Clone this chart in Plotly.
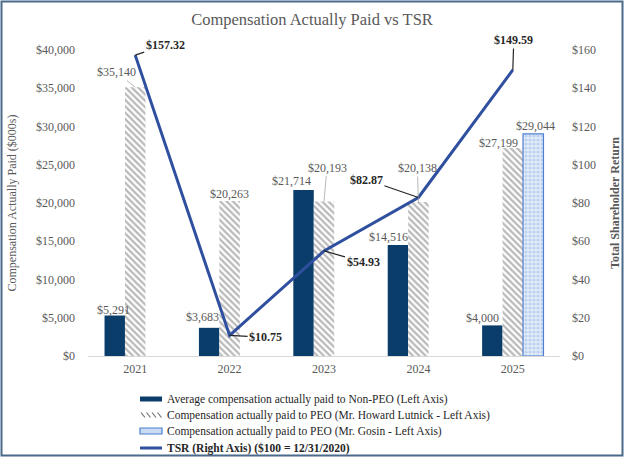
import plotly.graph_objects as go

# chart data
years = ["2021", "2022", "2023", "2024", "2025"]
non_peo = [5291, 3683, 21714, 14516, 4000]
lutnick = [35140, 20263, 20193, 20138, 27199]
gosin = [None, None, None, None, 29044]
tsr = [157.32, 10.75, 54.93, 82.87, 149.59]

legend_names = [
    "Average compensation actually paid to Non-PEO (Left Axis)",
    "Compensation actually paid to PEO (Mr. Howard Lutnick - Left Axis)",
    "Compensation actually paid to PEO (Mr. Gosin - Left Axis)",
    "<b>TSR (Right Axis) ($100 = 12/31/2020)</b>",
]

FONT = "Liberation Serif, Times New Roman, serif"
GREY = "#595959"
NAVY = "#0b3d6b"
LINE_BLUE = "#2f4f9f"
HATCH = "#727272"
DOT_EDGE = "#4f7fd0"

W, H = 624, 457
L, R, T, B = 88, 64, 50, 101
PW, PH = W - L - R, H - T - B
BAR_W = 20.5  # px per bar, used to shift labels over each bar


def px(x):
    """pixel x -> paper x"""
    return (x - L) / PW


def py(y):
    """pixel y (from top) -> paper y"""
    return (T + PH - y) / PH


fig = go.Figure()

fig.add_trace(go.Bar(
    x=years, y=non_peo, name=legend_names[0],
    marker=dict(color=NAVY, line=dict(width=0)),
))
fig.add_trace(go.Bar(
    x=years, y=lutnick, name=legend_names[1],
    marker=dict(
        color="white",
        line=dict(width=0),
        pattern=dict(shape="\\", fgcolor=HATCH, bgcolor="white", size=4.5, solidity=0.5),
    ),
))
fig.add_trace(go.Bar(
    x=years, y=gosin, name=legend_names[2],
    marker=dict(
        color="#dbe7f5",
        line=dict(width=1.2, color=DOT_EDGE),
        pattern=dict(shape=".", fgcolor="#93b6e6", bgcolor="#e3edf8", size=4, solidity=0.5),
    ),
))
fig.add_trace(go.Scatter(
    x=years, y=tsr, yaxis="y2", name=legend_names[3],
    mode="lines",
    line=dict(color=LINE_BLUE, width=3),
))

annotations = []

# bar value labels: series, bar slot, per point (dx, dy, leader line)
# without leader: text sits on the bar top, shifted dx / dy px
# with leader: text centre at (dx, dy) px from the bar top
bar_labels = [
    (non_peo, -1, [(-1, -3, False), (-7, 2, False), (-12, 0, False), (-9, -1, False), (-10, -2, False)]),
    (lutnick, 0, [(-19, -15, True), (0, -2, False), (3, -34, True), (-1, -34, True), (-14, -4, False)]),
    (gosin, 1, [None, None, None, None, (2, -1, False)]),
]
for vals, slot, opts in bar_labels:
    for i, v in enumerate(vals):
        if v is None:
            continue
        dx, dy, leader = opts[i]
        a = dict(
            x=i, y=v, xref="x", yref="y",
            text=f"${v:,.0f}",
            font=dict(family=FONT, size=12, color=GREY),
            xshift=slot * BAR_W,
        )
        if leader:
            a.update(showarrow=True, arrowhead=0, arrowwidth=0.8, arrowcolor="#a6a6a6",
                     ax=dx, ay=dy, xanchor="center", yanchor="middle", standoff=0)
        else:
            a.update(showarrow=False, yanchor="bottom", yshift=dy)
            a["xshift"] += dx
        annotations.append(a)

# TSR value labels with leader lines (label centre offset from the point)
tsr_offsets = [(30, -10), (36, 2), (39, 11), (-52, -18), (1, -30)]
for i, v in enumerate(tsr):
    dx, dy = tsr_offsets[i]
    annotations.append(dict(
        x=i, y=v, xref="x", yref="y2",
        text=f"<b>${v:,.2f}</b>",
        font=dict(family=FONT, size=12, color="#262626"),
        showarrow=True, arrowhead=0, arrowwidth=1.2, arrowcolor="#262626",
        ax=dx, ay=dy, xanchor="center", yanchor="middle", standoff=0,
    ))

# legend drawn by hand so the rows sit as tight as in the original
legend_rows = [399, 415, 431, 448]
sym_x0, sym_x1, text_x = 140, 162, 165
for name, ry in zip(legend_names, legend_rows):
    annotations.append(dict(
        x=px(text_x), y=py(ry), xref="paper", yref="paper",
        xanchor="left", yanchor="middle", showarrow=False,
        text=name, font=dict(family=FONT, size=11.5, color="#262626"),
    ))

shapes = []
# non-PEO swatch
shapes.append(dict(type="rect", xref="paper", yref="paper",
                   x0=px(sym_x0), x1=px(sym_x1), y0=py(legend_rows[0] + 2.5), y1=py(legend_rows[0] - 2.5),
                   fillcolor=NAVY, line=dict(width=0)))
# hatch swatch
for hx in [141, 146.5, 152, 157.5]:
    shapes.append(dict(type="line", xref="paper", yref="paper",
                       x0=px(hx), x1=px(hx + 4), y0=py(legend_rows[1] - 2.5), y1=py(legend_rows[1] + 2.5),
                       line=dict(color=HATCH, width=1.2)))
# Gosin swatch
shapes.append(dict(type="rect", xref="paper", yref="paper",
                   x0=px(sym_x0), x1=px(sym_x1), y0=py(legend_rows[2] + 3), y1=py(legend_rows[2] - 3),
                   fillcolor="#c9dcf3", line=dict(width=1.2, color=DOT_EDGE)))
# TSR swatch
shapes.append(dict(type="line", xref="paper", yref="paper",
                   x0=px(sym_x0), x1=px(sym_x1), y0=py(legend_rows[3]), y1=py(legend_rows[3]),
                   line=dict(color=LINE_BLUE, width=3)))
# outer frame around the whole chart
shapes.append(dict(type="rect", xref="paper", yref="paper",
                   x0=px(1.5), x1=px(W - 1.5), y0=py(H - 1.5), y1=py(1.5),
                   line=dict(color="#4a6b8c", width=2), fillcolor="rgba(0,0,0,0)", layer="above"))

fig.update_layout(
    width=W, height=H,
    margin=dict(l=L, r=R, t=T, b=B, autoexpand=False),
    paper_bgcolor="white", plot_bgcolor="white",
    font=dict(family=FONT, size=12, color=GREY),
    title=dict(
        text="Compensation Actually Paid vs TSR",
        x=0.5, xanchor="center", y=0.958, yanchor="middle",
        font=dict(family=FONT, size=16.5, color=GREY),
    ),
    barmode="group", bargap=0.35, bargroupgap=0.0,
    showlegend=False,
    xaxis=dict(
        showgrid=False, showline=True, linecolor="#d9d9d9", linewidth=1,
        ticks="", ticklabelstandoff=2, automargin=False,
        tickfont=dict(family=FONT, size=12, color=GREY),
    ),
    yaxis=dict(
        range=[0, 40000], dtick=5000, tickprefix="$", tickformat=",d",
        showgrid=False, zeroline=False, showline=False,
        ticklabelstandoff=12, automargin=False,
        tickfont=dict(family=FONT, size=12, color=GREY),
        title=dict(text="Compensation Actually Paid ($000s)",
                   font=dict(family=FONT, size=12, color=GREY), standoff=16),
    ),
    yaxis2=dict(
        range=[0, 160], dtick=20, tickprefix="$",
        overlaying="y", side="right",
        showgrid=False, zeroline=False, showline=False,
        ticklabelstandoff=11, automargin=False,
        tickfont=dict(family=FONT, size=12, color=GREY),
        title=dict(text="<b>Total Shareholder Return</b>",
                   font=dict(family=FONT, size=12, color=GREY), standoff=15),
    ),
    annotations=annotations,
    shapes=shapes,
)

# page margin off so the figure sits flush in the window; no toolbar
fig.write_html(
    "out.html",
    config={"displayModeBar": False},
    post_script="document.body.style.margin='0';",
)
